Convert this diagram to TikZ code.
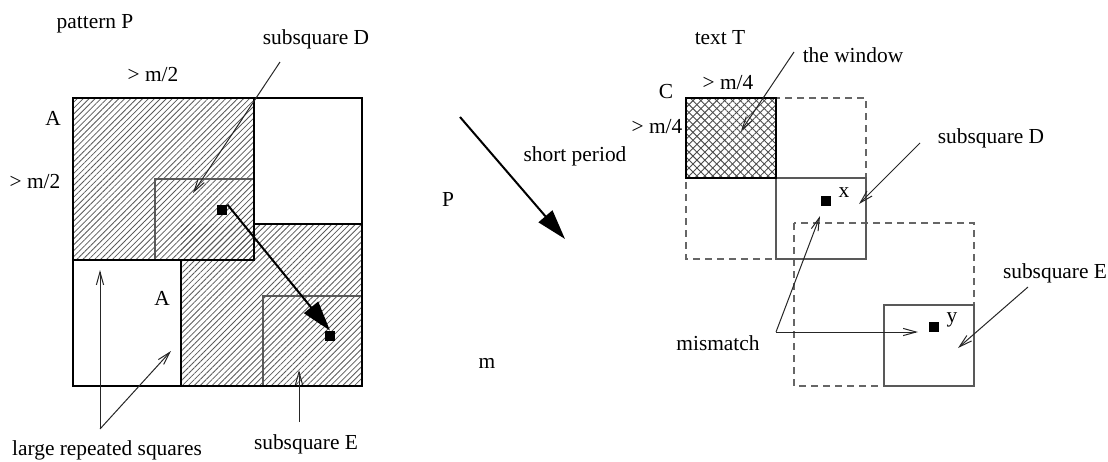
\documentclass[tikz,border=0pt]{standalone}
\usepackage{fontspec}
\setmainfont{Liberation Serif}
\usetikzlibrary{patterns,patterns.meta,arrows.meta}
\begin{document}
\begin{tikzpicture}[x=0.5pt,y=-0.5pt,
  lbl/.style={font=\fontsize{10.7}{13}\selectfont, inner sep=0pt, anchor=base},
  bigline/.style={line width=1pt, draw=black},
  thinline/.style={draw=black!65, line width=0.6pt},
  dashline/.style={draw=black!60, line width=0.6pt, dash pattern=on 3.5pt off 2.5pt},
  hatchfill/.style={pattern={Lines[angle=45,distance=2.1pt,line width=0.4pt]}, pattern color=black!65},
  crossA/.style={pattern={Lines[angle=45,distance=2.8pt,line width=0.45pt]}, pattern color=black!70},
  crossB/.style={pattern={Lines[angle=-45,distance=2.8pt,line width=0.45pt]}, pattern color=black!70},
  sq/.style={fill=black, draw=none, minimum size=5pt, inner sep=0pt},
  thinarrow/.style={draw=black!85, line width=0.5pt, -{Straight Barb[length=6.5pt,width=3.6pt]}},
  fatarrow/.style={draw=black, line width=1pt, -{Triangle[length=15pt,width=9pt]}}
]
\useasboundingbox (0,0) rectangle (1108,461);

% ---------- left: pattern P ----------
\fill[hatchfill] (73,98) rectangle (254,260);
\fill[hatchfill] (181,224) rectangle (362,386);
\draw[thinline] (155,260) -- (155,179) -- (254,179);
\draw[thinline] (263,386) -- (263,296) -- (362,296);
\draw[bigline] (73,98) rectangle (362,386);
\draw[bigline] (73,98) rectangle (254,260);
\draw[bigline] (181,260) -- (181,386);
\draw[bigline] (254,224) -- (362,224);

\node[sq] (p1) at (222,210) {};
\node[sq] (p2) at (330,336) {};
\draw[fatarrow] (p1.north east) -- (p2.north);

\node[lbl] (patP) at (95,28) {pattern P};
\node[lbl] (subDl) at (316,44) {subsquare D};
\node[lbl] (m2top) at (153,81) {> m/2};
\node[lbl] (A1) at (53,125) {A};
\node[lbl] (m2left) at (35,188) {> m/2};
\node[lbl] (A2) at (162,305) {A};
\node[lbl] (large) at (107,455) {large repeated squares};
\node[lbl] (subEl) at (306,449) {subsquare E};

\coordinate (dS) at (280,62);
\coordinate (dE) at (193,193);
\draw[thinarrow] (dS) -- (dE);
\coordinate (lS) at (100,429);
\coordinate (lE1) at (100,270);
\coordinate (lE2) at (171,351);
\draw[thinarrow] (lS) -- (lE1);
\draw[thinarrow] (lS) -- (lE2);
\coordinate (eS) at (299,422);
\coordinate (eE) at (299,370);
\draw[thinarrow] (eS) -- (eE);

% ---------- middle ----------
\coordinate (s0) at (460,117);
\coordinate (s1) at (565,239);
\draw[fatarrow] (s0) -- (s1);
\node[lbl] (shortp) at (575,161) {short period};
\node[lbl] (Pmid) at (448,206) {P};
\node[lbl] (mmid) at (487,368) {m};

% ---------- right: text T ----------
\fill[crossA] (686,98) rectangle (776,178);
\fill[crossB] (686,98) rectangle (776,178);
\draw[dashline] (686,98) rectangle (866,259);
\draw[dashline] (794,223) rectangle (974,386);
\draw[thinline] (776,178) rectangle (866,259);
\draw[thinline] (884,305) rectangle (974,386);
\draw[bigline] (686,98) rectangle (776,178);

\node[sq] (px) at (826,201) {};
\node[sq] (py) at (934,327) {};
\node[lbl] (xl) at (844,197) {x};
\node[lbl] (yl) at (952,322) {y};

\node[lbl] (textT) at (720,44) {text T};
\node[lbl] (window) at (853,62) {the window};
\node[lbl] (Cl) at (666,98) {C};
\node[lbl] (m4top) at (728,89) {> m/4};
\node[lbl] (m4left) at (657,133) {> m/4};
\node[lbl] (subDr) at (991,143) {subsquare D};
\node[lbl] (subEr) at (1055,278) {subsquare E};
\node[lbl] (mism) at (718,350) {mismatch};

\coordinate (wS) at (794,52);
\coordinate (wE) at (741,131);
\draw[thinarrow] (wS) -- (wE);
\coordinate (rdS) at (920,143);
\coordinate (rdE) at (859,204);
\draw[thinarrow] (rdS) -- (rdE);
\coordinate (reS) at (1028,287);
\coordinate (reE) at (958,348);
\draw[thinarrow] (reS) -- (reE);
\coordinate (mS) at (776,332);
\coordinate (mE1) at (820,216);
\coordinate (mE2) at (918,332);
\draw[thinarrow] (mS) -- (mE1);
\draw[thinarrow] (mS) -- (mE2);
\end{tikzpicture}
\end{document}
